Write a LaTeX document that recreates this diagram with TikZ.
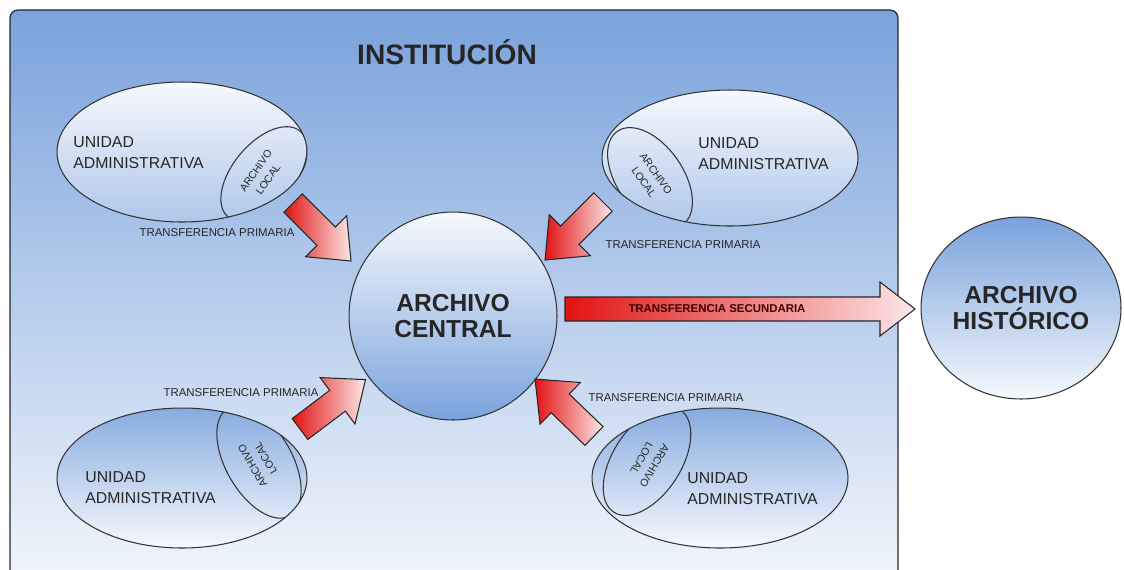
\documentclass[tikz,border=0pt]{standalone}
\usepackage{fontspec}
\setmainfont{Liberation Sans}
\usetikzlibrary{shapes.geometric}
\definecolor{skyblue}{RGB}{122,162,220}
\definecolor{paleblue}{RGB}{246,249,253}
\definecolor{arrred}{RGB}{226,18,18}
\definecolor{arrpink}{RGB}{252,230,230}

\begin{document}
\begin{tikzpicture}[x=0.02cm,y=-0.02cm,line cap=round,
  unidad/.style={ellipse,draw=black!80,line width=0.6pt,inner sep=0pt,minimum width=5cm,minimum height=2.8cm},
  upper/.style={top color=paleblue,bottom color=skyblue!60},
  lower/.style={top color=skyblue!90,bottom color=paleblue},
  archivo/.style={ellipse,draw=black!80,line width=0.6pt,inner sep=0pt,font=\bfseries\fontsize{14}{14.5}\selectfont,align=center,text=black!85},
  ualabel/.style={font=\fontsize{9}{12}\selectfont,align=left,inner sep=0pt,anchor=west,text=black!85},
  local/.style={font=\fontsize{6}{8.5}\selectfont,align=center,inner sep=0pt,text=black!85},
  tlabel/.style={font=\fontsize{6.5}{7}\selectfont,inner sep=0pt,text=black!85},
  inner/.style={draw=black!80,line width=0.6pt},
  pics/fatarrow/.style n args={4}{code={
    \shade[draw=black!85,line width=0.6pt,line join=miter,left color=arrred,right color=arrpink]
      (0,-#2) -- ({#1-#4},-#2) -- ({#1-#4},-#3) -- (#1,0) -- ({#1-#4},#3) -- ({#1-#4},#2) -- (0,#2) -- cycle;
  }}]
\begin{scope}
\clip (0,0) rectangle (1124,569);
\shade[draw=black!85,line width=0.7pt,rounded corners=0.16cm,top color=skyblue,bottom color=paleblue]
  (10,600) -- (10,10) -- (898,10) -- (898,600);
\end{scope}
\useasboundingbox (0,0) rectangle (1124,569);

\node[font=\bfseries\fontsize{16}{18}\selectfont,text=black!85] (inst) at (447,52) {INSTITUCIÓN};

\node[archivo,minimum width=4.16cm,minimum height=4.16cm,top color=paleblue,bottom color=skyblue] (central) at (453,316) {ARCHIVO\\CENTRAL};
\node[archivo,minimum width=4cm,minimum height=3.64cm,top color=skyblue,bottom color=paleblue] (historico) at (1021,308) {ARCHIVO\\HISTÓRICO};

\node[unidad,upper] (ua1) at (182,152) {};
\node[unidad,upper,minimum width=5.12cm,minimum height=2.72cm] (ua2) at (730,158) {};
\node[unidad,lower] (ua3) at (182,478) {};
\node[unidad,lower,minimum width=5.12cm] (ua4) at (720,478) {};

\begin{scope}
\clip (182,152) ellipse [x radius=125,y radius=70];
\draw[inner,rotate around={50:(264,174)}] (264,174) ellipse [x radius=56,y radius=31];
\end{scope}
\begin{scope}
\clip (730,158) ellipse [x radius=128,y radius=68];
\draw[inner,rotate around={-55:(650,178)}] (650,178) ellipse [x radius=57,y radius=33];
\end{scope}
\begin{scope}
\clip (182,478) ellipse [x radius=125,y radius=70];
\draw[inner,rotate around={-60:(259,462)}] (259,462) ellipse [x radius=62,y radius=33];
\end{scope}
\begin{scope}
\clip (720,478) ellipse [x radius=128,y radius=70];
\draw[inner,rotate around={57:(647,461)}] (647,461) ellipse [x radius=61,y radius=34];
\end{scope}

\node[ualabel] (n1) at (73,153) {UNIDAD\\ADMINISTRATIVA};
\node[ualabel] (n2) at (698,154) {UNIDAD\\ADMINISTRATIVA};
\node[ualabel] (n3) at (85,488) {UNIDAD\\ADMINISTRATIVA};
\node[ualabel] (n4) at (687,489) {UNIDAD\\ADMINISTRATIVA};

\node[local,rotate=55] (l1) at (262,175) {ARCHIVO\\LOCAL};
\node[local,rotate=-55] (l2) at (650,178) {ARCHIVO\\LOCAL};
\node[local,rotate=120] (l3) at (259,462) {ARCHIVO\\LOCAL};
\node[local,rotate=240] (l4) at (648,462) {ARCHIVO\\LOCAL};

\pic[rotate=-45] (tp1) at (293,203) {fatarrow={82}{13}{29}{35}};
\pic[rotate=-135] (tp2) at (603,202) {fatarrow={82}{13}{29}{35}};
\pic[rotate=37] (tp3) at (300,429) {fatarrow={82}{13}{29}{35}};
\pic[rotate=136] (tp4) at (594,436) {fatarrow={82}{13}{29}{35}};
\pic (ts) at (565,309) {fatarrow={350}{12}{27}{35}};

\node[tlabel] (t1) at (217,233) {TRANSFERENCIA PRIMARIA};
\node[tlabel] (t2) at (683,245) {TRANSFERENCIA PRIMARIA};
\node[tlabel] (t3) at (241,393) {TRANSFERENCIA PRIMARIA};
\node[tlabel] (t4) at (666,398) {TRANSFERENCIA PRIMARIA};
\node[tlabel,font=\bfseries\fontsize{6.5}{7}\selectfont,text=black!75!red] (t5) at (717,309) {TRANSFERENCIA SECUNDARIA};
\end{tikzpicture}
\end{document}
